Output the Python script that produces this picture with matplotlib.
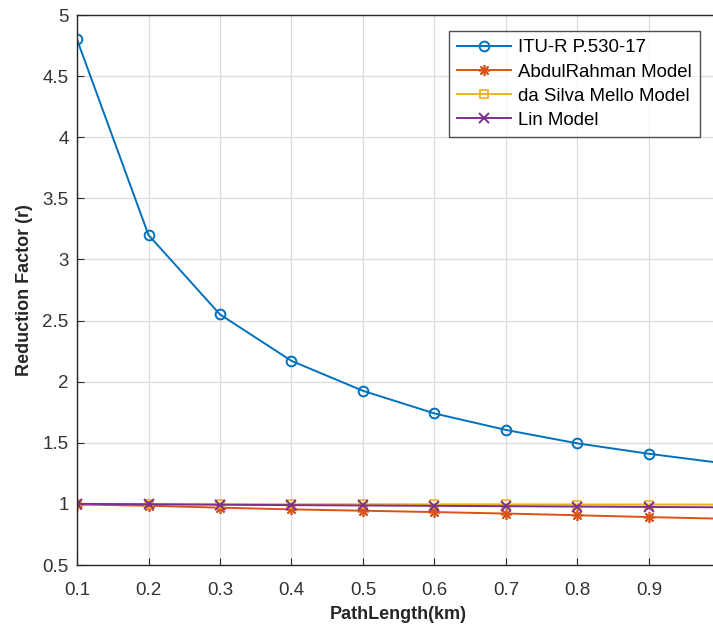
import matplotlib
matplotlib.use("Agg")
import matplotlib.pyplot as plt

path_km = [0.1, 0.2, 0.3, 0.4, 0.5, 0.6, 0.7, 0.8, 0.9, 1.0]
itu = [4.80, 3.20, 2.55, 2.17, 1.925, 1.74, 1.605, 1.495, 1.41, 1.335]
abdulrahman = [0.995, 0.985, 0.969, 0.955, 0.944, 0.933, 0.921, 0.907, 0.892, 0.879]
da_silva = [1.0, 0.999, 0.998, 0.997, 0.997, 0.996, 0.996, 0.995, 0.995, 0.994]
lin = [1.0, 0.997, 0.993, 0.990, 0.987, 0.984, 0.981, 0.978, 0.975, 0.972]

labels = ["ITU-R P.530-17", "AbdulRahman Model", "da Silva Mello Model", "Lin Model"]
colors = ["#0072BD", "#D95319", "#EDB120", "#7E2F8E"]
xticks = [0.1, 0.2, 0.3, 0.4, 0.5, 0.6, 0.7, 0.8, 0.9]
yticks = [0.5, 1, 1.5, 2, 2.5, 3, 3.5, 4, 4.5, 5]

plt.rcParams['font.family'] = ['Liberation Sans', 'DejaVu Sans']

fig = plt.figure(figsize=(7.13, 6.25), dpi=100)
ax = fig.add_axes([77/713, 60/625, (720.5-77)/713, (565-15)/625])

ax.plot(path_km, itu, color=colors[0], marker='o', ms=7, mfc='none', mew=1.4, lw=1.4, label=labels[0])
ax.plot(path_km, abdulrahman, color=colors[1], marker=(8, 2, 0), ms=8, mew=1.2, lw=1.4, label=labels[1])
ax.plot(path_km, da_silva, color=colors[2], marker='s', ms=6, mfc='none', mew=1.2, lw=1.4, label=labels[2])
ax.plot(path_km, lin, color=colors[3], marker='x', ms=7, mew=1.4, lw=1.4, label=labels[3])

ax.set_xlim(0.1, 1.0)
ax.set_ylim(0.5, 5)
ax.set_xticks(xticks)
ax.set_xticklabels([f"{v:g}" for v in xticks])
ax.set_yticks(yticks)
ax.set_yticklabels([f"{v:g}" for v in yticks])
ax.grid(True, color="#dcdcdc", lw=0.9)
ax.set_axisbelow(True)
ax.tick_params(direction='in', length=5, labelsize=13.5, colors="#262626", labelcolor="#333333")
ax.tick_params(axis='x', pad=12)
ax.tick_params(axis='y', pad=6)
for s in ax.spines.values():
    s.set_color("#262626")
    s.set_linewidth(1.0)

ax.set_xlabel("PathLength(km)", fontsize=13, fontweight='bold', color="#262626", labelpad=5)
ax.set_ylabel("Reduction Factor (r)", fontsize=13, fontweight='bold', color="#262626", labelpad=7)

leg = ax.legend(loc='upper right', bbox_to_anchor=(700/713, 1 - 31/625), bbox_transform=fig.transFigure,
                fontsize=13.4, frameon=True, fancybox=False, edgecolor="#262626",
                handlelength=2.9, borderpad=0.45, labelspacing=0.38, handletextpad=0.35, borderaxespad=0)
leg.get_frame().set_linewidth(1.0)

fig.savefig("out.png", dpi=100)
